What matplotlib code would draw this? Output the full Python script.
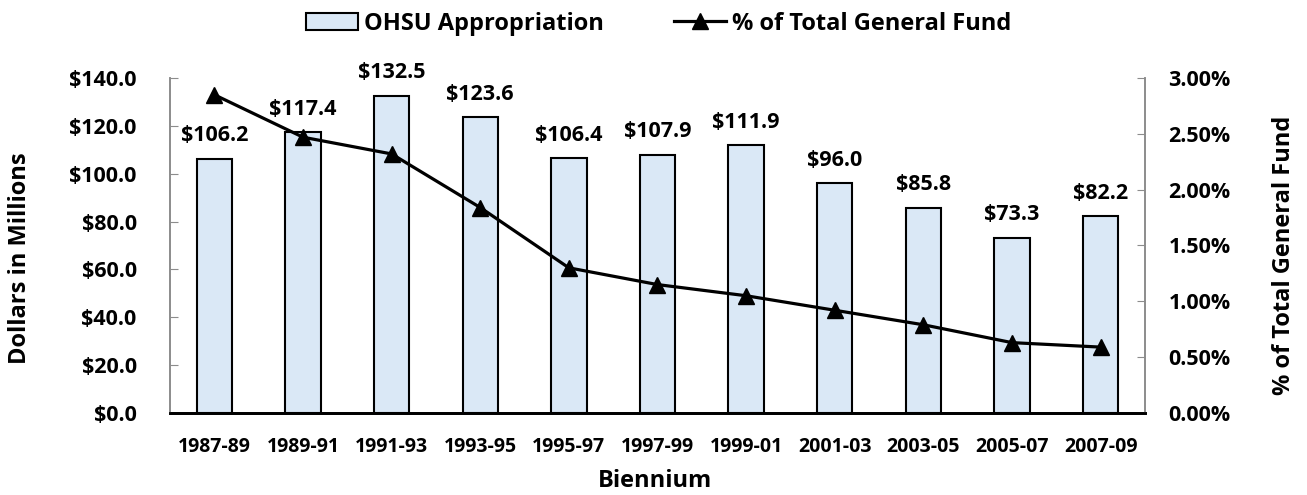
import matplotlib.pyplot as plt
from matplotlib.ticker import FuncFormatter

plt.rcParams["font.family"] = ["Open Sans", "DejaVu Sans"]
plt.rcParams["font.weight"] = "bold"

BIENNIA = ["1987-89", "1989-91", "1991-93", "1993-95", "1995-97", "1997-99",
           "1999-01", "2001-03", "2003-05", "2005-07", "2007-09"]
APPROPRIATION = [106.2, 117.4, 132.5, 123.6, 106.4, 107.9, 111.9, 96.0, 85.8, 73.3, 82.2]
PCT_GENERAL_FUND = [2.85, 2.47, 2.32, 1.84, 1.30, 1.15, 1.05, 0.92, 0.79, 0.63, 0.59]

BAR_FILL = "#dae8f6"
SPINE_GREY = "#8c8c8c"

fig = plt.figure(figsize=(13.07, 4.95), dpi=100, facecolor="white")
ax = fig.add_axes([0.1301, 0.1657, 0.7459, 0.6767])
ax2 = ax.twinx()

x = list(range(len(BIENNIA)))
bars = ax.bar(x, APPROPRIATION, width=0.4, color=BAR_FILL, edgecolor="black",
              linewidth=1.5, label="OHSU Appropriation", zorder=2)
for xi, v in zip(x, APPROPRIATION):
    ax.annotate(f"${v:.1f}", (xi, v), xytext=(0, 9), textcoords="offset points",
                ha="center", va="bottom", fontsize=15.5, fontweight="bold")

line, = ax2.plot(x, PCT_GENERAL_FUND, color="black", linewidth=2.3, marker="^",
                 markersize=11, label="% of Total General Fund", zorder=3)

ax.set_xlim(-0.5, len(BIENNIA) - 0.5)
ax.set_ylim(0, 140)
ax.set_yticks(range(0, 141, 20))
ax.yaxis.set_major_formatter(FuncFormatter(lambda v, _p: f"${v:.1f}"))
ax2.set_ylim(0, 3.0)
ax2.set_yticks([0, 0.5, 1.0, 1.5, 2.0, 2.5, 3.0])
ax2.yaxis.set_major_formatter(FuncFormatter(lambda v, _p: f"{v:.2f}%"))

ax.set_xticks(x)
ax.set_xticklabels(BIENNIA, fontsize=14, fontweight="bold")

for a in (ax, ax2):
    a.spines["top"].set_visible(False)
    a.spines["left"].set_color(SPINE_GREY)
    a.spines["right"].set_color(SPINE_GREY)
    a.spines["left"].set_linewidth(1.2)
    a.spines["right"].set_linewidth(1.2)
    a.spines["bottom"].set_color("black")
    a.spines["bottom"].set_linewidth(2)

ax.tick_params(axis="y", direction="in", length=6, color=SPINE_GREY, pad=24,
               labelsize=15.5)
ax2.tick_params(axis="y", direction="in", length=6, color=SPINE_GREY, pad=17,
                labelsize=15.5)
ax.tick_params(axis="x", length=0, pad=17)
for lab in ax.get_yticklabels() + ax2.get_yticklabels():
    lab.set_fontweight("bold")

fig.text(0.0153, 0.479, "Dollars in Millions", rotation=90, ha="center",
         va="center", fontsize=17, fontweight="bold")
fig.text(0.9824, 0.485, "% of Total General Fund", rotation=90, ha="center",
         va="center", fontsize=17, fontweight="bold")
fig.text(0.501, 0.028, "Biennium", ha="center", va="center", fontsize=17,
         fontweight="bold")

ax2.set_zorder(ax.get_zorder() + 1)
ax2.patch.set_visible(False)

fig.legend(handles=[bars, line], loc="center", bbox_to_anchor=(0.504, 0.952),
           ncol=2, frameon=False, columnspacing=3.0,
           handlelength=2.2, handletextpad=0.25, borderaxespad=0,
           prop={"family": ["Open Sans", "DejaVu Sans"], "weight": "bold", "size": 17})

fig.savefig("out.png", dpi=100, facecolor="white")
